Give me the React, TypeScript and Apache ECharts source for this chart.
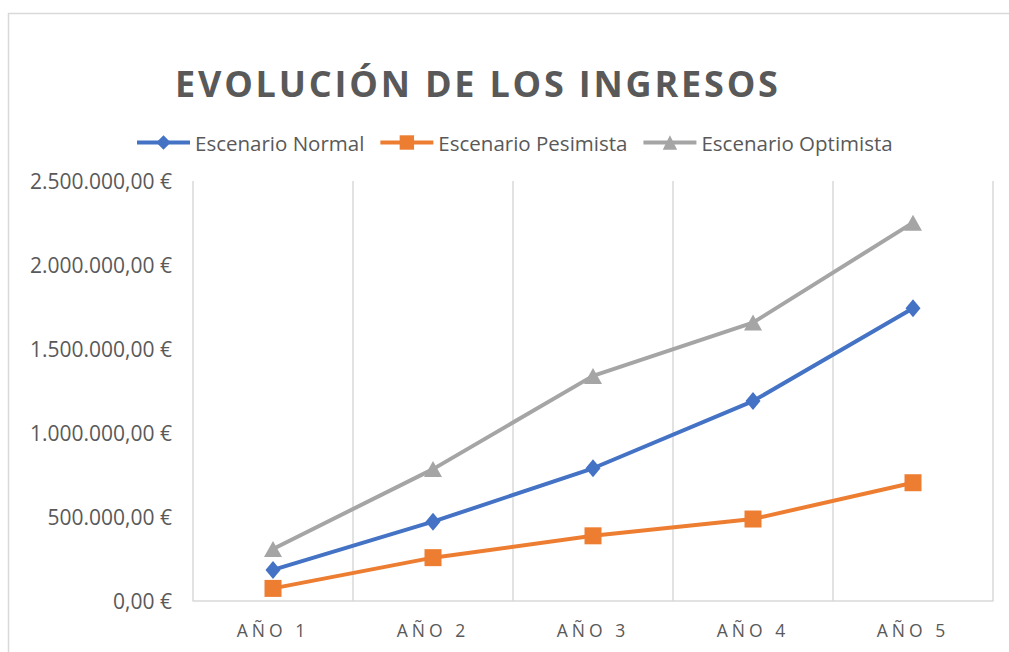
import React, { useEffect, useRef } from "react";
import * as echarts from "echarts";

const TITLE = "EVOLUCIÓN DE LOS INGRESOS";
const categories = ["AÑO 1", "AÑO 2", "AÑO 3", "AÑO 4", "AÑO 5"];
const seriesNames = ["Escenario Normal", "Escenario Pesimista", "Escenario Optimista"];
const normal = [185000, 472000, 790000, 1190000, 1742000];
const pesimista = [75000, 258000, 388000, 488000, 704000];
const optimista = [310000, 785000, 1340000, 1657000, 2252000];
const yTicks = [0, 500000, 1000000, 1500000, 2000000, 2500000];

const colors = ["#4472C4", "#ED7D31", "#A5A5A5"];
const symbols = ["diamond", "rect", "triangle"];
const symbolSizes: any[] = [[15, 18], 17, [18, 16]];

function formatEuro(v: number): string {
  const int = Math.round(v).toString();
  let out = "";
  for (let i = 0; i < int.length; i++) {
    const fromEnd = int.length - i;
    out += int[i];
    if (fromEnd > 1 && (fromEnd - 1) % 3 === 0) out += ".";
  }
  return out + ",00 €";
}

export default function App() {
  const ref = useRef<HTMLDivElement>(null);
  useEffect(() => {
    if (!ref.current) return;
    const chart = echarts.init(ref.current, undefined, { renderer: "svg" });
    const data = [normal, pesimista, optimista];
    const option: any = {
      animation: false,
      color: colors,
      graphic: [
        {
          type: "rect",
          shape: { x: 8.5, y: 13.5, width: 1200, height: 800 },
          style: { fill: "none", stroke: "#D9D9D9", lineWidth: 1.5 },
          silent: true,
          z: -10,
        },
      ],
      title: {
        text: TITLE,
        left: 175,
        top: 65,
        padding: 0,
        textStyle: {
          fontFamily: "Open Sans",
          fontWeight: "bold",
          fontSize: 36,
          color: "#595959",
        },
      },
      legend: {
        left: 135,
        top: 132,
        padding: 0,
        itemWidth: 53,
        itemHeight: 18,
        itemGap: 14,
        data: seriesNames,
        lineStyle: { width: 4 },
        textStyle: {
          fontFamily: "Open Sans",
          fontSize: 20.5,
          color: "#595959",
        },
      },
      grid: { left: 193, right: 16, top: 181, bottom: 51, containLabel: false },
      xAxis: {
        type: "category",
        data: categories,
        boundaryGap: true,
        axisLine: { show: true, lineStyle: { color: "#D9D9D9", width: 1.5 } },
        axisTick: { show: false },
        splitLine: { show: true, lineStyle: { color: "#D9D9D9", width: 1.5 } },
        axisLabel: {
          margin: 20,
          fontFamily: "Open Sans",
          fontSize: 17.5,
          color: "#595959",
        },
      },
      yAxis: {
        type: "value",
        min: yTicks[0],
        max: yTicks[yTicks.length - 1],
        interval: yTicks[1] - yTicks[0],
        axisLine: { show: false },
        axisTick: { show: false },
        splitLine: { show: false },
        axisLabel: {
          margin: 21,
          fontFamily: "Open Sans",
          fontSize: 21,
          color: "#595959",
          formatter: (v: number) => formatEuro(v),
        },
      },
      series: seriesNames.map((name, i) => ({
        name,
        type: "line",
        data: data[i],
        symbol: symbols[i],
        symbolSize: symbolSizes[i],
        showSymbol: true,
        lineStyle: { color: colors[i], width: 4 },
        itemStyle: { color: colors[i] },
      })),
    };
    chart.setOption(option);
    const applySpacing = () => {
      const root = ref.current;
      if (!root) return;
      root.querySelectorAll("text").forEach((t) => {
        const s = t.textContent || "";
        if (s === TITLE) (t as any).style.letterSpacing = "2.8px";
        else if (categories.indexOf(s) >= 0) (t as any).style.letterSpacing = "4px";
      });
    };
    applySpacing();
    chart.on("finished", applySpacing);
    return () => {
      chart.dispose();
    };
  }, []);
  return (
    <div
      ref={ref}
      style={{ position: "absolute", left: 0, top: 0, width: 1009, height: 652, background: "#fff" }}
    />
  );
}
